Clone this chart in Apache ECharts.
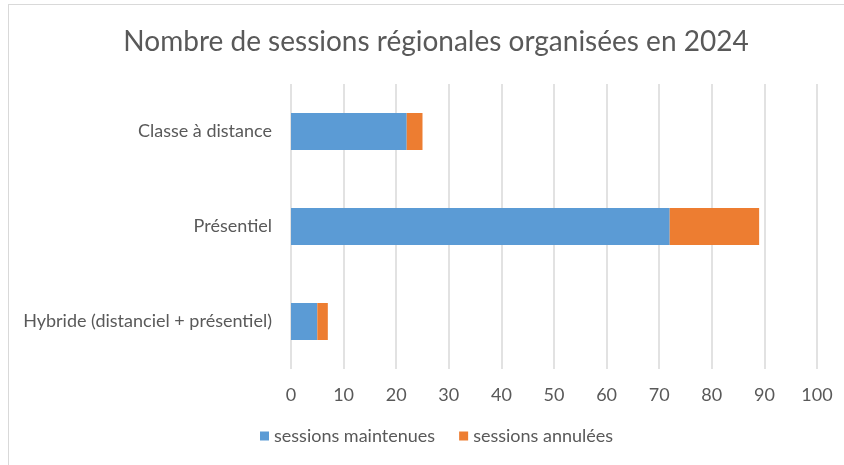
<!DOCTYPE html>
<html><head><meta charset="utf-8">
<script src="https://cdn.jsdelivr.net/npm/echarts@6/dist/echarts.min.js"></script>
<style>html,body{margin:0;padding:0;background:#fff;overflow:hidden}#c{width:844px;height:465px}
#frame{position:absolute;left:8px;top:4px;width:900px;height:520px;border:1px solid #d9d9d9;box-sizing:border-box;pointer-events:none}</style>
</head><body><div id="c"></div><div id="frame"></div>
<script>
const categories = ["Classe à distance", "Présentiel", "Hybride (distanciel + présentiel)"];
const maintenues = [22, 72, 5];
const annulees = [3, 17, 2];
const xTicks = [0, 10, 20, 30, 40, 50, 60, 70, 80, 90, 100];

const chart = echarts.init(document.getElementById('c'));
const font = "Lato, 'Open Sans', sans-serif";
chart.setOption({
  animation: false,
  title: {
    text: "Nombre de sessions régionales organisées en 2024",
    left: 431, textAlign: 'center', top: 23,
    textStyle: {fontFamily: font, fontSize: 28, fontWeight: 'normal', color: '#595959'}
  },
  legend: {
    bottom: 15, left: 255, itemWidth: 9, itemHeight: 9, itemGap: 24,
    icon: 'rect',
    textStyle: {fontFamily: font, fontSize: 18, color: '#595959'},
    data: ["sessions maintenues", "sessions annulées"]
  },
  grid: {left: 291, right: 27, top: 84, bottom: 96, containLabel: false},
  xAxis: {
    type: 'value', min: xTicks[0], max: xTicks[xTicks.length - 1], interval: 10,
    axisLine: {show: false}, axisTick: {show: false},
    splitLine: {lineStyle: {color: '#d9d9d9', width: 1.5}},
    axisLabel: {fontFamily: font, fontSize: 18, color: '#595959', margin: 17}
  },
  yAxis: {
    type: 'category', data: categories, inverse: true,
    axisLine: {show: false}, axisTick: {show: false},
    axisLabel: {fontFamily: font, fontSize: 18, color: '#595959', margin: 19}
  },
  series: [
    {name: "sessions maintenues", type: 'bar', stack: 's', data: maintenues, barWidth: 37,
     itemStyle: {color: '#5b9bd5'}},
    {name: "sessions annulées", type: 'bar', stack: 's', data: annulees, barWidth: 37,
     itemStyle: {color: '#ed7d31'}}
  ]
});
</script></body></html>
